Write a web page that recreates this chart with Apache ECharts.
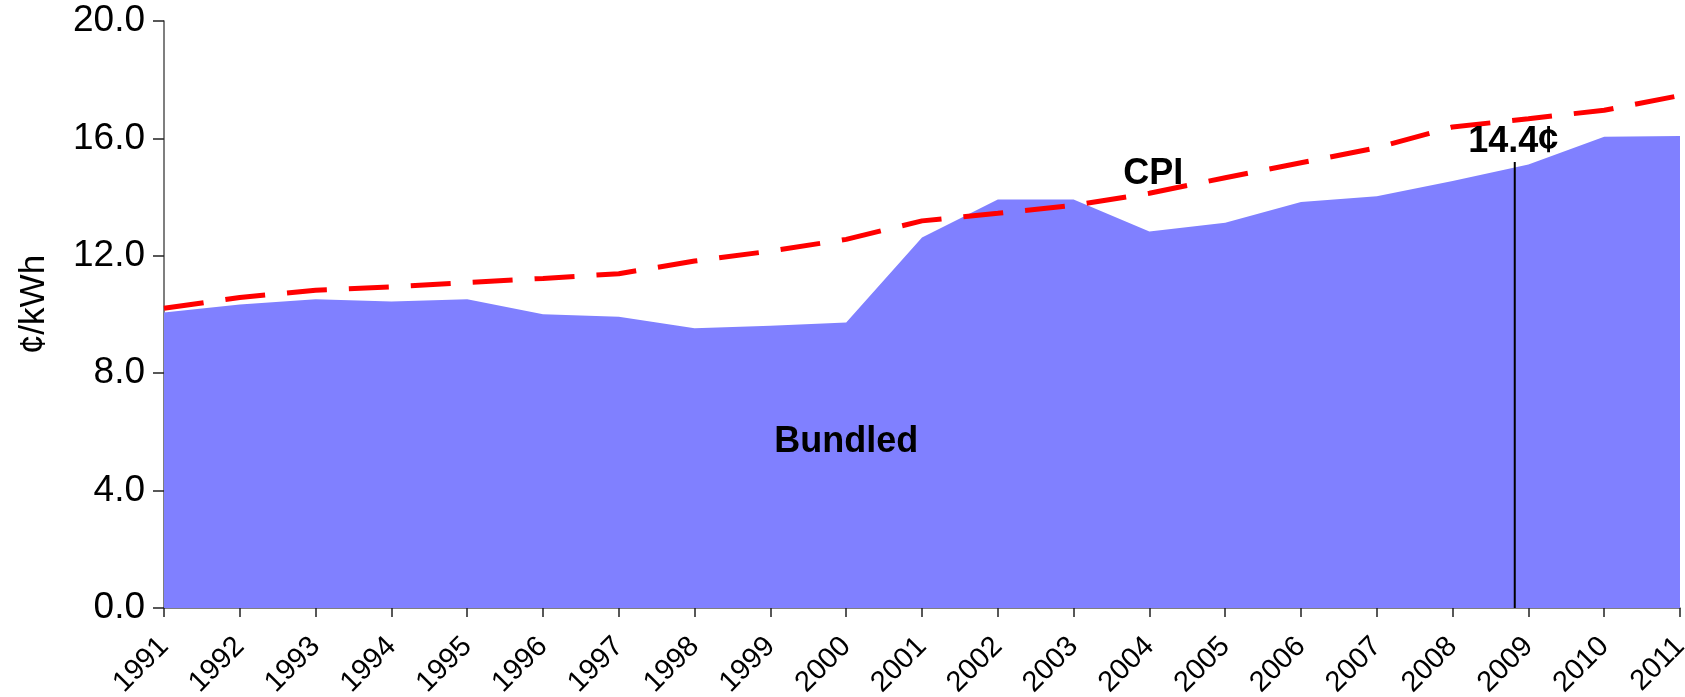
<!DOCTYPE html>
<html>
<head>
<meta charset="utf-8">
<script src="https://cdn.jsdelivr.net/npm/echarts@6/dist/echarts.min.js"></script>
<style>
  html, body { margin: 0; padding: 0; background: #fff; }
  #chart { width: 1685px; height: 697px; }
</style>
</head>
<body>
<div id="chart"></div>
<script>
var years = ['1991','1992','1993','1994','1995','1996','1997','1998','1999','2000',
  '2001','2002','2003','2004','2005','2006','2007','2008','2009','2010','2011'];
var bundled = [10.07,10.34,10.52,10.44,10.52,10.01,9.92,9.53,9.62,9.73,
  12.62,13.92,13.92,12.83,13.13,13.83,14.03,14.55,15.11,16.06,16.08];
var cpi = [10.21,10.58,10.83,10.94,11.09,11.23,11.39,11.82,12.16,12.56,
  13.19,13.45,13.72,14.13,14.66,15.17,15.68,16.39,16.67,16.96,17.46];
var yTicks = [0, 4, 8, 12, 16, 20];
// marker line at 2008.8 up to 15.2
var marker = [[2008.82, 0], [2008.82, 15.2]];
// text notes: [x, y, text]
var notes = [[2000.0, 5.65, 'Bundled'], [2004.05, 14.8, 'CPI'], [2008.8, 15.86, '14.4¢']];

var font = '"Liberation Sans", Arial, Helvetica, sans-serif';
var chart = echarts.init(document.getElementById('chart'));
chart.setOption({
  animation: false,
  grid: { left: 164, right: 5, top: 21, bottom: 89, outerBoundsMode: 'none', containLabel: false },
  xAxis: [{
    type: 'category',
    data: years,
    boundaryGap: false,
    axisLine: { lineStyle: { color: '#555', width: 1.5 } },
    axisTick: { show: true, interval: 0, length: 9, lineStyle: { color: '#222', width: 1.5 } },
    axisLabel: { interval: 0, rotate: 45, margin: 34, fontSize: 29, color: '#000', fontFamily: font },
    splitLine: { show: false }
  }, {
    type: 'value',
    min: 1991,
    max: 2011,
    show: false
  }],
  yAxis: {
    type: 'value',
    min: yTicks[0],
    max: yTicks[yTicks.length - 1],
    interval: 4,
    name: '¢/kWh',
    nameLocation: 'middle',
    nameGap: 112,
    nameTextStyle: { fontSize: 35, color: '#000', fontFamily: font, padding: [0, 0, 0, 20] },
    axisLine: { show: true, lineStyle: { color: '#555', width: 1.5 } },
    axisTick: { show: true, length: 11, lineStyle: { color: '#222', width: 1.5 } },
    axisLabel: {
      margin: 19, fontSize: 37, color: '#000', fontFamily: font,
      formatter: function (v) { return v.toFixed(1); }
    },
    splitLine: { show: false }
  },
  series: [{
    name: 'Bundled',
    type: 'line',
    data: bundled,
    symbol: 'none',
    lineStyle: { width: 0 },
    areaStyle: { color: '#8080ff', opacity: 1 },
    z: 1
  }, {
    name: 'CPI',
    type: 'line',
    data: cpi,
    symbol: 'none',
    lineStyle: { color: '#ff0000', width: 5, type: [40, 22] },
    z: 3
  }, {
    type: 'line',
    xAxisIndex: 1,
    data: marker,
    symbol: 'none',
    lineStyle: { color: '#000', width: 2 },
    z: 4
  }, {
    type: 'scatter',
    xAxisIndex: 1,
    symbolSize: 0,
    itemStyle: { opacity: 1 },
    data: notes.map(function (n) { return { value: [n[0], n[1]], name: n[2] }; }),
    label: {
      show: true,
      position: 'inside',
      formatter: '{b}',
      fontSize: 36,
      fontWeight: 'bold',
      color: '#000',
      opacity: 1,
      fontFamily: font
    },
    z: 5
  }]
});
</script>
</body>
</html>
